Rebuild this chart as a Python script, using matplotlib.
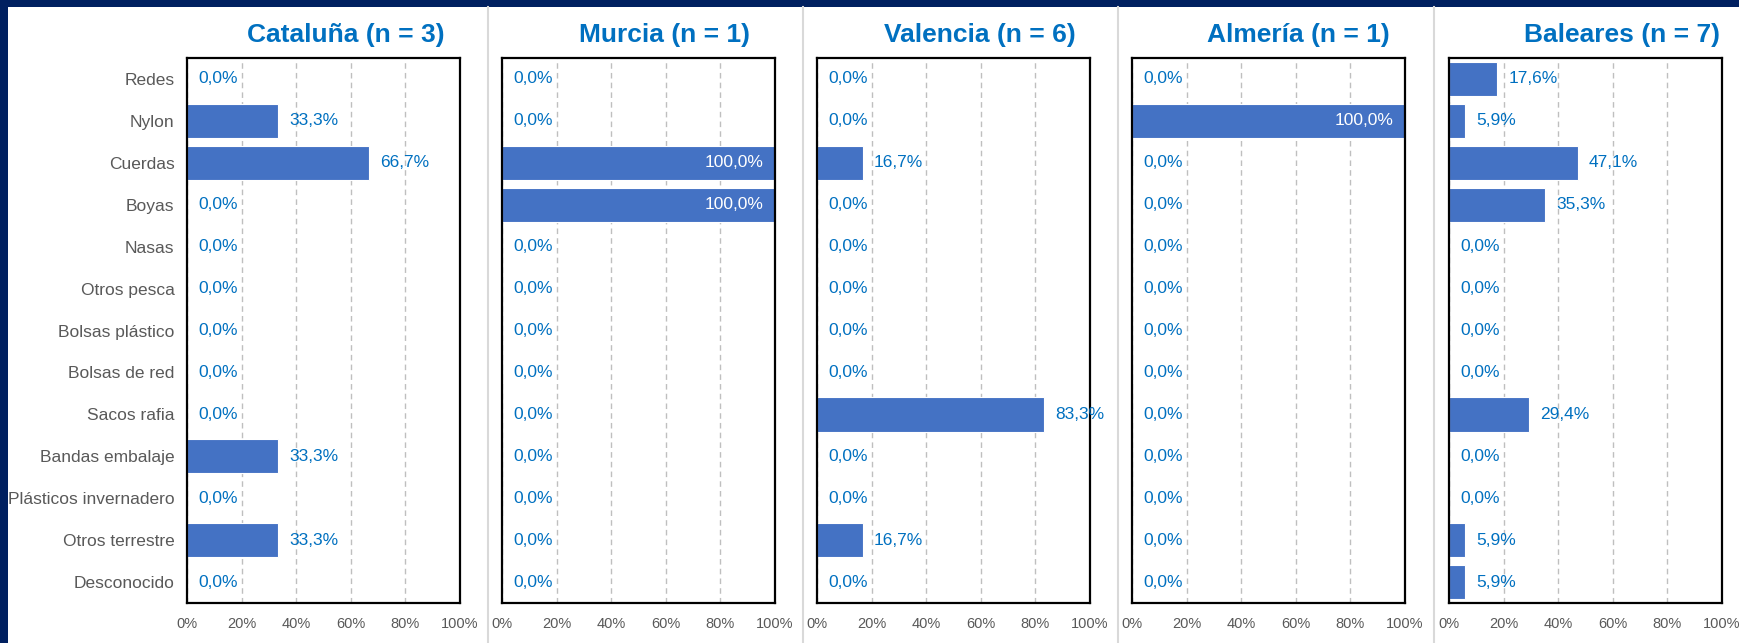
import matplotlib
matplotlib.use("Agg")
import matplotlib.pyplot as plt
from matplotlib.patches import Rectangle
from matplotlib.lines import Line2D

plt.rcParams['font.family'] = ['Liberation Sans', 'DejaVu Sans']

categorias = ["Redes", "Nylon", "Cuerdas", "Boyas", "Nasas", "Otros pesca",
              "Bolsas plástico", "Bolsas de red", "Sacos rafia", "Bandas embalaje",
              "Plásticos invernadero", "Otros terrestre", "Desconocido"]

titulos = ["Cataluña (n = 3)", "Murcia (n = 1)", "Valencia (n = 6)",
           "Almería (n = 1)", "Baleares (n = 7)"]

cataluna = [0, 33.3, 66.7, 0, 0, 0, 0, 0, 0, 33.3, 0, 33.3, 0]
murcia = [0, 0, 100, 100, 0, 0, 0, 0, 0, 0, 0, 0, 0]
valencia = [0, 0, 16.7, 0, 0, 0, 0, 0, 83.3, 0, 0, 16.7, 0]
almeria = [0, 100, 0, 0, 0, 0, 0, 0, 0, 0, 0, 0, 0]
baleares = [17.6, 5.9, 47.1, 35.3, 0, 0, 0, 0, 29.4, 0, 0, 5.9, 5.9]

ticks = [0, 20, 40, 60, 80, 100]

W, H = 1739, 643
navy = "#002060"
azul = "#4472C4"
txt_azul = "#0070C0"
gris = "#595959"

fig = plt.figure(figsize=(W / 100, H / 100), dpi=100, facecolor=navy)
# fondo blanco
fig.patches.append(Rectangle((8 / W, 0), 1 - 8 / W, 1 - 7 / H, transform=fig.transFigure,
                             facecolor="white", edgecolor="none", zorder=-2))
# separadores de paneles
for xs in [488, 803, 1118, 1434]:
    fig.lines.append(Line2D([xs / W, xs / W], [0, 1 - 7 / H], transform=fig.transFigure,
                            color="#d9d9d9", lw=1.5, zorder=-1))

lefts = [187, 502, 817, 1132, 1449]
title_off = [0.58, 0.595, 0.595, 0.61, 0.635]
series = [cataluna, murcia, valencia, almeria, baleares]
ypos = list(range(len(categorias)))

for i, (vals, titulo) in enumerate(zip(series, titulos)):
    ax = fig.add_axes([lefts[i] / W, 40 / H, 273 / W, 545 / H])
    ax.barh(ypos, vals, height=0.82, color=azul, edgecolor="white", linewidth=0.8, zorder=2)
    ax.set_xlim(0, 100)
    ax.set_ylim(len(categorias) - 0.5, -0.5)
    ax.set_xticks(ticks)
    ax.set_xticklabels([f"{t}%" for t in ticks], color=gris, fontsize=10.5)
    ax.tick_params(axis="both", length=0, pad=10)
    ax.xaxis.grid(True, linestyle=(0, (4, 3)), color="#bfbfbf", lw=1, zorder=1)
    ax.set_axisbelow(True)
    for s in ax.spines.values():
        s.set_color("black")
        s.set_linewidth(1.6)
    if i == 0:
        ax.set_yticks(ypos)
        ax.set_yticklabels(categorias, color=gris, fontsize=12.5)
        ax.tick_params(axis="y", pad=9)
    else:
        ax.set_yticks([])
    for y, v in zip(ypos, vals):
        lab = f"{v:.1f}%".replace(".", ",")
        if v >= 99:
            ax.annotate(lab, (v, y), xytext=(-8, 0), textcoords="offset points",
                        ha="right", va="center", color="white", fontsize=12.5, zorder=3)
        else:
            ax.annotate(lab, (v, y), xytext=(8, 0), textcoords="offset points",
                        ha="left", va="center", color=txt_azul, fontsize=12.5, zorder=3,
                        annotation_clip=False)
    ax.text(title_off[i], 1 + 23 / 545, titulo, transform=ax.transAxes, ha="center",
            va="center", color=txt_azul, fontsize=19, fontweight="bold")

fig.savefig("out.png", dpi=100, facecolor=navy)
